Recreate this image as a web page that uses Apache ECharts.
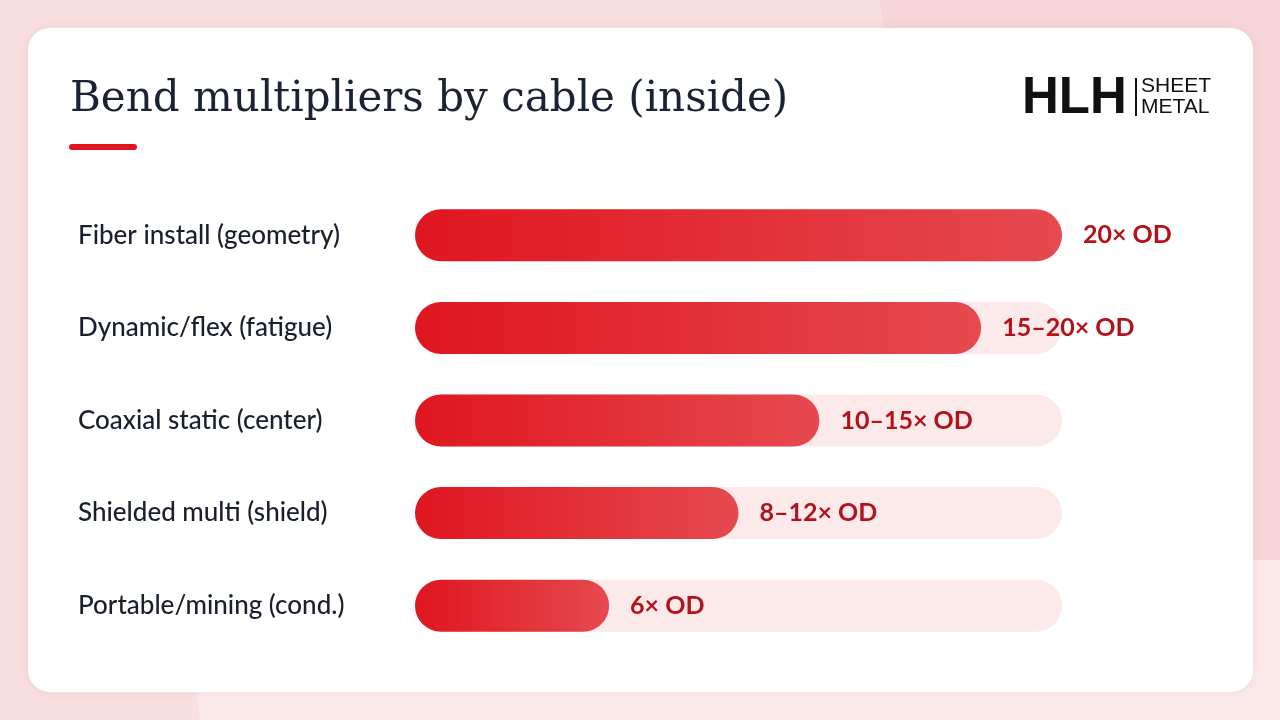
<!DOCTYPE html>
<html><head><meta charset="utf-8">
<script src="https://cdn.jsdelivr.net/npm/echarts@6/dist/echarts.min.js"></script>
<style>html,body{margin:0;padding:0;background:#f8dfe0}#c{width:1280px;height:720px}</style>
</head><body><div id="c"></div>
<script>
const categories = ["Fiber install (geometry)", "Dynamic/flex (fatigue)", "Coaxial static (center)", "Shielded multi (shield)", "Portable/mining (cond.)"];
const values = [20, 17.5, 12.5, 10, 6];
const valueLabels = ["20× OD", "15–20× OD", "10–15× OD", "8–12× OD", "6× OD"];
const axisMax = 20;

const chart = echarts.init(document.getElementById('c'));
chart.setOption({
  animation: false,
  backgroundColor: '#f8dfe0',
  graphic: [
    {type:'polygon', z:-10, shape:{points:[[880,0],[1280,0],[1280,720],[960,720]]}, style:{fill:'#f6d6d8'}},
    {type:'polygon', z:-10, shape:{points:[[200,720],[1280,720],[1280,560],[180,560]]}, style:{fill:'#fbe9ea'}},
    {type:'rect', z:-5, shape:{x:28,y:28,width:1225,height:664,r:22}, style:{fill:'#ffffff', shadowBlur:8, shadowColor:'rgba(200,120,120,0.15)'}},
    {type:'text', left:70, top:79, style:{text:'Bend multipliers by cable (inside)', font:'400 42px "DejaVu Serif", serif', fill:'#1a2233'}},
    {type:'rect', shape:{x:69,y:144,width:68,height:6,r:3}, style:{fill:'#e0161f'}},
    {type:'text', left:1022, top:73, style:{text:'HLH', font:'bold 51px "Liberation Sans", Arial, sans-serif', fill:'#111111'}},
    {type:'rect', shape:{x:1135,y:78,width:2,height:38}, style:{fill:'#111111'}},
    {type:'text', left:1141, top:76, style:{text:'SHEET', font:'400 21px "Liberation Sans", Arial, sans-serif', fill:'#111111'}},
    {type:'text', left:1141, top:97, style:{text:'METAL', font:'400 21px "Liberation Sans", Arial, sans-serif', fill:'#111111'}}
  ],
  grid: {left: 415, right: 218, top: 189, bottom: 68, containLabel: false},
  xAxis: {type:'value', min:0, max:axisMax, show:false},
  yAxis: {
    type:'category', data: categories, inverse: true,
    axisLine:{show:false}, axisTick:{show:false}, splitLine:{show:false},
    axisLabel:{align:'left', margin:337, color:'#1a1f2e', fontSize:26, fontFamily:'Lato, sans-serif', fontWeight:500, padding:[3,0,0,0]}
  },
  series: [{
    type:'bar', data: values, barWidth: 52,
    showBackground: true,
    backgroundStyle: {color:'#fce9ea', borderRadius:26},
    itemStyle: {
      borderRadius: 26,
      color: new echarts.graphic.LinearGradient(0,0,1,0,[{offset:0,color:'#df161f'},{offset:1,color:'#e64950'}])
    },
    label: {
      show:true, position:'right', distance:21,
      formatter: p => valueLabels[p.dataIndex],
      color:'#b3121a', fontSize:25, fontWeight:'bold', fontFamily:'Lato, sans-serif', padding:[3,0,0,0]
    }
  }]
});
</script></body></html>
